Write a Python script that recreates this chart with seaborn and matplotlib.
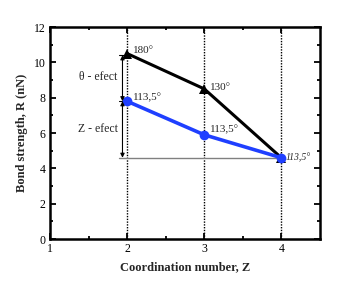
import matplotlib
matplotlib.use("Agg")
import matplotlib.pyplot as plt
import seaborn as sns
import pandas as pd

sns.set_theme(style="ticks")
plt.rcParams['font.family'] = ['Liberation Serif', 'DejaVu Serif']
plt.rcParams['axes.edgecolor'] = 'black'
plt.rcParams['xtick.color'] = 'black'
plt.rcParams['ytick.color'] = 'black'

z = [2, 3, 4]
r_theta = [10.5, 8.5, 4.6]
r_z = [7.8, 5.9, 4.6]
angles_theta = ["180°", "130°", ""]
angles_z = ["113,5°", "113,5°", "113,5°"]
xticks = [1, 2, 3, 4]
yticks = [0, 2, 4, 6, 8, 10, 12]

df = pd.DataFrame({"Z": z * 2, "R": r_theta + r_z,
                   "series": ["theta"] * 3 + ["z"] * 3})

fig, ax = plt.subplots(figsize=(3.4, 2.94), dpi=100)
fig.subplots_adjust(left=0.147, right=0.941, top=0.908, bottom=0.187)

for xv in z:
    ax.axvline(xv, color="black", lw=1.0, ls=(0, (1, 1)), zorder=1)

ax.plot([1.9, 4.0], [r_z[-1], r_z[-1]], color="gray", lw=1.0, zorder=1)

sns.lineplot(data=df, x="Z", y="R", hue="series", style="series",
             palette={"theta": "black", "z": "#1f3fff"},
             markers={"theta": "^", "z": "o"}, dashes=False,
             markersize=7, markeredgewidth=0, legend=False, ax=ax, zorder=3)
for line, lw in zip(ax.get_lines()[-2:], [2.2, 2.6]):
    line.set_linewidth(lw)

xa = 1.94
ax.annotate("", xy=(xa, r_theta[0] - 0.1), xytext=(xa, r_z[0]),
            arrowprops=dict(arrowstyle="<|-|>", color="black", lw=0.8,
                            mutation_scale=6, shrinkA=0, shrinkB=0))
ax.annotate("", xy=(xa, r_z[0]), xytext=(xa, r_z[-1]),
            arrowprops=dict(arrowstyle="<|-|>", color="black", lw=0.8,
                            mutation_scale=6, shrinkA=0, shrinkB=0))
for yv in [r_theta[0] - 0.1, r_z[0]]:
    ax.plot([1.89, 2.0], [yv, yv], color="black", lw=0.8, zorder=2)

fs = 8
ax.text(2.07, r_theta[0] + 0.2, angles_theta[0], fontsize=fs, va="center")
ax.text(3.07, r_theta[1] + 0.1, angles_theta[1], fontsize=fs, va="center")
ax.text(2.07, r_z[0] + 0.2, angles_z[0], fontsize=fs, va="center")
ax.text(3.07, r_z[1] + 0.3, angles_z[1], fontsize=fs, va="center")
ax.text(4.05, r_z[2], angles_z[2], fontsize=7, va="center", style="italic")
ax.text(1.88, 9.15, "θ - efect", fontsize=8.5, va="center", ha="right")
ax.text(1.88, 6.25, "Z - efect", fontsize=8.5, va="center", ha="right")

ax.set_xlim(1, 4.5)
ax.set_ylim(0, 12)
ax.set_xticks(xticks)
ax.set_yticks(yticks)
ax.set_xticks([1.5, 2.5, 3.5], minor=True)
ax.set_yticks([1, 3, 5, 7, 9, 11], minor=True)
ax.tick_params(which="both", direction="in", top=True, right=True,
               labelsize=8.5, width=1.3, pad=3)
ax.tick_params(which="major", length=4)
ax.tick_params(which="minor", length=2.5)
for s in ax.spines.values():
    s.set_linewidth(1.8)
ax.set_xlabel("Coordination number, Z", fontsize=9, fontweight="bold")
ax.set_ylabel("Bond strength, R (nN)", fontsize=9, fontweight="bold")

fig.savefig("out.png", dpi=100)
